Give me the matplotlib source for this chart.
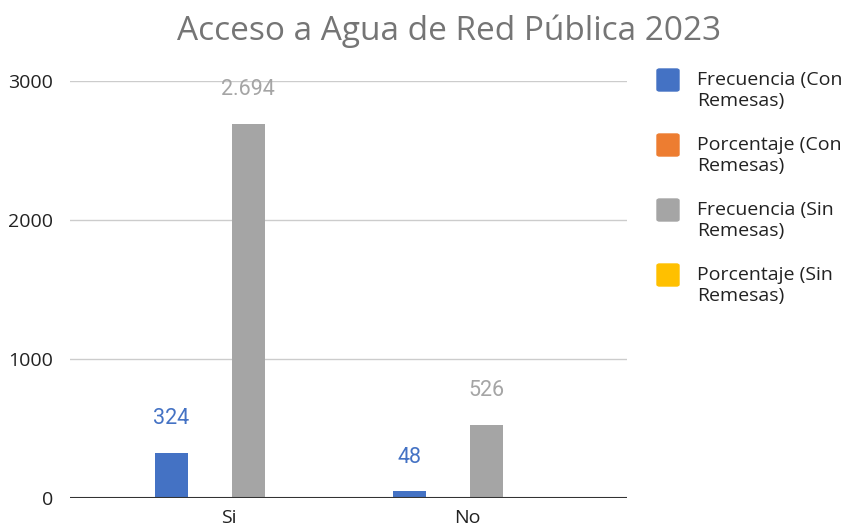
import matplotlib.pyplot as plt
import numpy as np
from matplotlib.patches import FancyBboxPatch

categories = ['Si', 'No']
series_names = ['Frecuencia (Con\nRemesas)', 'Porcentaje (Con\nRemesas)',
                'Frecuencia (Sin\nRemesas)', 'Porcentaje (Sin\nRemesas)']
freq_con = [324, 48]
pct_con = [0.871, 0.129]
freq_sin = [2694, 526]
pct_sin = [0.837, 0.163]
colors = ['#4472C4', '#ED7D31', '#A5A5A5', '#FFC000']
label_colors = ['#4472C4', None, '#A5A5A5', None]

fig = plt.figure(figsize=(8.47, 5.29), dpi=100)
ax = fig.add_axes([70 / 847, 31 / 529, 557 / 847, 417 / 529])

x = np.arange(len(categories))
slot = 0.162
width = 0.139
all_series = [freq_con, pct_con, freq_sin, pct_sin]
for i, vals in enumerate(all_series):
    pos = x + (i - 1.5) * slot
    bars = ax.bar(pos, vals, width=width, color=colors[i], zorder=3)
    if label_colors[i]:
        for b, v in zip(bars, vals):
            txt = f'{v:,}'.replace(',', '.')
            ax.annotate(txt, (b.get_x() + b.get_width() / 2, v),
                        xytext=(0, 24.5), textcoords='offset points',
                        ha='center', va='center', fontsize=15.5,
                        color=label_colors[i], family='Roboto',
                        annotation_clip=False, zorder=4)

ax.set_ylim(0, 3000)
ax.set_xlim(-0.668, 1.672)
ax.set_yticks([0, 1000, 2000, 3000])
ax.set_xticks(x)
ax.set_xticklabels(categories)
for s in ax.spines.values():
    s.set_visible(False)
ax.axhline(0, color='#333333', lw=1.5, zorder=5)
ax.grid(axis='y', color='#cccccc', lw=1, zorder=0)
ax.tick_params(length=0, labelsize=14, colors='#222222')
ax.tick_params(axis='y', pad=12)
ax.tick_params(axis='x', pad=8)
for lab in ax.get_xticklabels() + ax.get_yticklabels():
    lab.set_family('Open Sans')

fig.text(449 / 847, 1 - 31 / 529, 'Acceso a Agua de Red Pública 2023',
         ha='center', va='center', fontsize=24, color='#757575', family='Open Sans')

# legend
for i, name in enumerate(series_names):
    top = 69 + i * 65
    fig.patches.append(FancyBboxPatch((657 / 847, 1 - (top + 22) / 529), 22 / 847, 22 / 529,
                                      boxstyle='round,pad=0,rounding_size=0.003',
                                      transform=fig.transFigure, color=colors[i]))
    fig.text(697 / 847, 1 - (top + 2) / 529, name, ha='left', va='top',
             fontsize=14, color='#222222', family='Open Sans', linespacing=1.2)

fig.savefig('out.png', dpi=100)
